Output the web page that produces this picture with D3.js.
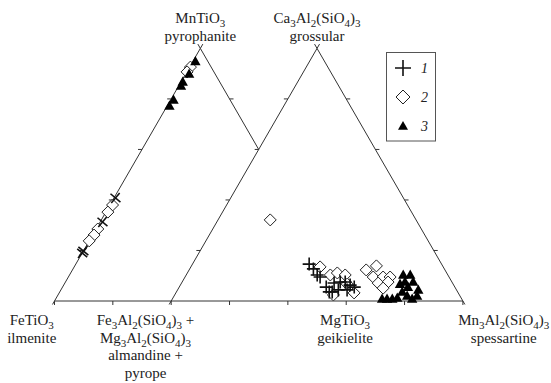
<!DOCTYPE html>
<html>
<head>
<meta charset="utf-8">
<script src="https://cdn.jsdelivr.net/npm/d3@7"></script>
<style>
  body { margin: 0; background: #fff; }
</style>
</head>
<body>
<div id="chart"></div>
<script>
// ternary points as [top fraction, right fraction]
// left triangle: FeTiO3 - MnTiO3 (top) - MgTiO3 (right)
const leftSeries1 = [[0.408, 0.005], [0.313, 0.008], [0.198, 0.0], [0.190, 0.0]];
const leftSeries2 = [[0.926, 0.003], [0.907, 0.001], [0.380, 0.009], [0.352, 0.007],
                     [0.285, 0.006], [0.261, 0.005], [0.238, 0.0]];
const leftSeries3 = [[0.948, 0.009], [0.899, 0.012], [0.867, 0.006], [0.851, 0.008],
                     [0.796, 0.010], [0.772, 0.008]];
// right triangle: almandine+pyrope - grossular (top) - spessartine (right)
const rightSeries1 = [[0.146, 0.400], [0.127, 0.424], [0.103, 0.449], [0.095, 0.463],
                      [0.055, 0.504], [0.036, 0.524], [0.071, 0.523], [0.075, 0.542],
                      [0.075, 0.559], [0.063, 0.582], [0.055, 0.600], [0.044, 0.551],
                      [0.044, 0.581], [0.036, 0.534]];
const rightSeries2 = [[0.321, 0.179], [0.135, 0.443], [0.103, 0.494], [0.111, 0.514],
                      [0.103, 0.545], [0.067, 0.570], [0.024, 0.544], [0.032, 0.611],
                      [0.123, 0.607], [0.139, 0.634], [0.095, 0.645], [0.095, 0.679],
                      [0.095, 0.703], [0.071, 0.674], [0.075, 0.706], [0.051, 0.701]];
const rightSeries3 = [[0.103, 0.744], [0.103, 0.768], [0.075, 0.764], [0.075, 0.792],
                      [0.067, 0.751], [0.055, 0.784], [0.044, 0.825], [0.036, 0.774],
                      [0.008, 0.719], [0.008, 0.736], [0.008, 0.754], [0.012, 0.769],
                      [0.008, 0.822], [0.020, 0.799], [0.020, 0.833]];

const baseTicks = d3.range(0, 8);
const sideTicks = [0.2, 0.4, 0.6, 0.8];
const legendLabels = ['1', '2', '3'];

const topLabels = [
  { at: 2.5, lines: ['MnTiO_3', 'pyrophanite'] },
  { at: 4.5, lines: ['Ca_3Al_2(SiO_4)_3', 'grossular'] }
];
const bottomLabels = [
  { at: -0.39, lines: ['FeTiO_3', 'ilmenite'] },
  { at: 1.56, lines: ['Fe_3Al_2(SiO_4)_3 +', 'Mg_3Al_2(SiO_4)_3', 'almandine +', 'pyrope'] },
  { at: 4.98, lines: ['MgTiO_3', 'geikielite'] },
  { at: 7.7, lines: ['Mn_3Al_2(SiO_4)_3', 'spessartine'] }
];

const width = 551, height = 383;
const svg = d3.select('#chart').append('svg')
    .attr('width', width)
    .attr('height', height)
    .style('font-family', '"Liberation Serif", "Times New Roman", serif');

// base units (one unit = 0.2 of a triangle side)
const x = d3.scaleLinear().domain([0, 7]).range([54.5, 462.9]);
const y = d3.scaleLinear().domain([0, 1]).range([301, 48.4]);

function pos(offset, top, right) {
    return [x(offset + 5 * (right + top / 2)), y(top)];
}

const lineColor = '#333';
const g = svg.append('g');

function edge(a, b) {
    g.append('line')
        .attr('x1', a[0]).attr('y1', a[1])
        .attr('x2', b[0]).attr('y2', b[1])
        .style('stroke', lineColor).style('stroke-width', 1);
}
function stub(p, from, len) {
    // extend a line past vertex p, away from point "from"
    const dx = p[0] - from[0], dy = p[1] - from[1];
    const d = Math.hypot(dx, dy);
    edge(p, [p[0] + dx / d * len, p[1] + dy / d * len]);
}
function hTick(p, dir) {
    edge(p, [p[0] + dir * 4, p[1]]);
}

// vertices
const fe = pos(0, 0, 0), mn = pos(0, 1, 0);
const alm = pos(2, 0, 0), grs = pos(2, 1, 0), sps = pos(2, 0, 1);
const junction = pos(0, 0.6, 0.4);

edge(fe, mn);
edge(mn, junction);
edge(alm, grs);
edge(grs, sps);
edge([x(0), y(0)], [x(7), y(0)]);

// vertex marks
stub(mn, fe, 5); stub(mn, junction, 5);
stub(grs, alm, 5); stub(grs, sps, 5);
stub(fe, mn, 4); stub(alm, grs, 4); stub(sps, grs, 4);

// base ticks
baseTicks.forEach(t => edge([x(t), y(0)], [x(t), y(0) + 4]));

// side ticks
sideTicks.forEach(t => {
    hTick(pos(0, t, 0), -1);
    hTick(pos(2, t, 0), -1);
    hTick(pos(2, t, 1 - t), 1);
});
hTick(pos(0, 0.8, 0.2), 1);

// markers
const diamond = 'M0,-6L6,0L0,6L-6,0Z';
const plus = 'M-6.5,0H6.5M0,-6.5V6.5';
const tri = 'M0,-5.5L5.2,3.8L-5.2,3.8Z';

function draw(data, offset, shape, style) {
    g.selectAll(null).data(data).enter().append('path')
        .attr('d', shape)
        .attr('transform', d => {
            const p = pos(offset, d[0], d[1]);
            return `translate(${p[0]},${p[1]})` + (style.rotate ? ` rotate(${style.rotate})` : '');
        })
        .style('fill', style.fill)
        .style('stroke', style.stroke)
        .style('stroke-width', style.sw);
}
const diamondStyle = { fill: '#fff', stroke: '#222', sw: 1 };
const triStyle = { fill: '#000', stroke: 'none', sw: 0 };
const plusStyle = { fill: 'none', stroke: '#111', sw: 1.6 };

draw(leftSeries2, 0, diamond, diamondStyle);
draw(rightSeries2, 2, diamond, diamondStyle);
draw(leftSeries3, 0, tri, triStyle);
draw(rightSeries3, 2, tri, triStyle);
draw(leftSeries1, 0, plus, Object.assign({ rotate: 40 }, plusStyle));
draw(rightSeries1, 2, plus, plusStyle);

// formula text with subscripts
function formula(sel, str) {
    const parts = str.split(/_(\d)/);
    let lowered = false;
    parts.forEach((p, i) => {
        if (!p) return;
        const ts = sel.append('tspan').text(p);
        if (i % 2 === 1) {
            ts.attr('dy', 4).style('font-size', '11px');
            lowered = true;
        } else if (lowered) {
            ts.attr('dy', -4);
            lowered = false;
        }
    });
}
function label(cx, y0, lines) {
    lines.forEach((ln, i) => {
        const t = svg.append('text')
            .attr('x', cx).attr('y', y0 + i * 17.5)
            .attr('text-anchor', 'middle')
            .style('font-size', '15px')
            .style('fill', '#222');
        formula(t, ln);
    });
}
topLabels.forEach(l => label(x(l.at), 23, l.lines));
bottomLabels.forEach(l => label(x(l.at), 325, l.lines));

// legend
const lg = svg.append('g');
lg.append('rect')
    .attr('x', 386.5).attr('y', 52.5)
    .attr('width', 49).attr('height', 88.5)
    .style('fill', '#fff').style('stroke', '#555').style('stroke-width', 1);
const legendY = d3.scalePoint().domain(legendLabels).range([68, 126]);
const legendShapes = [
    { d: 'M-8,0H8M0,-8V8', s: { fill: 'none', stroke: '#111', sw: 1.6 } },
    { d: 'M0,-7L7,0L0,7L-7,0Z', s: diamondStyle },
    { d: 'M0,-5L5,3.8L-5,3.8Z', s: triStyle }
];
legendLabels.forEach((lab, i) => {
    lg.append('path')
        .attr('d', legendShapes[i].d)
        .attr('transform', `translate(403,${legendY(lab)})`)
        .style('fill', legendShapes[i].s.fill)
        .style('stroke', legendShapes[i].s.stroke)
        .style('stroke-width', legendShapes[i].s.sw);
    lg.append('text')
        .attr('x', 421).attr('y', legendY(lab) + 5)
        .style('font-size', '14px')
        .style('font-style', 'italic')
        .style('fill', '#222')
        .text(lab);
});
</script>
</body>
</html>
